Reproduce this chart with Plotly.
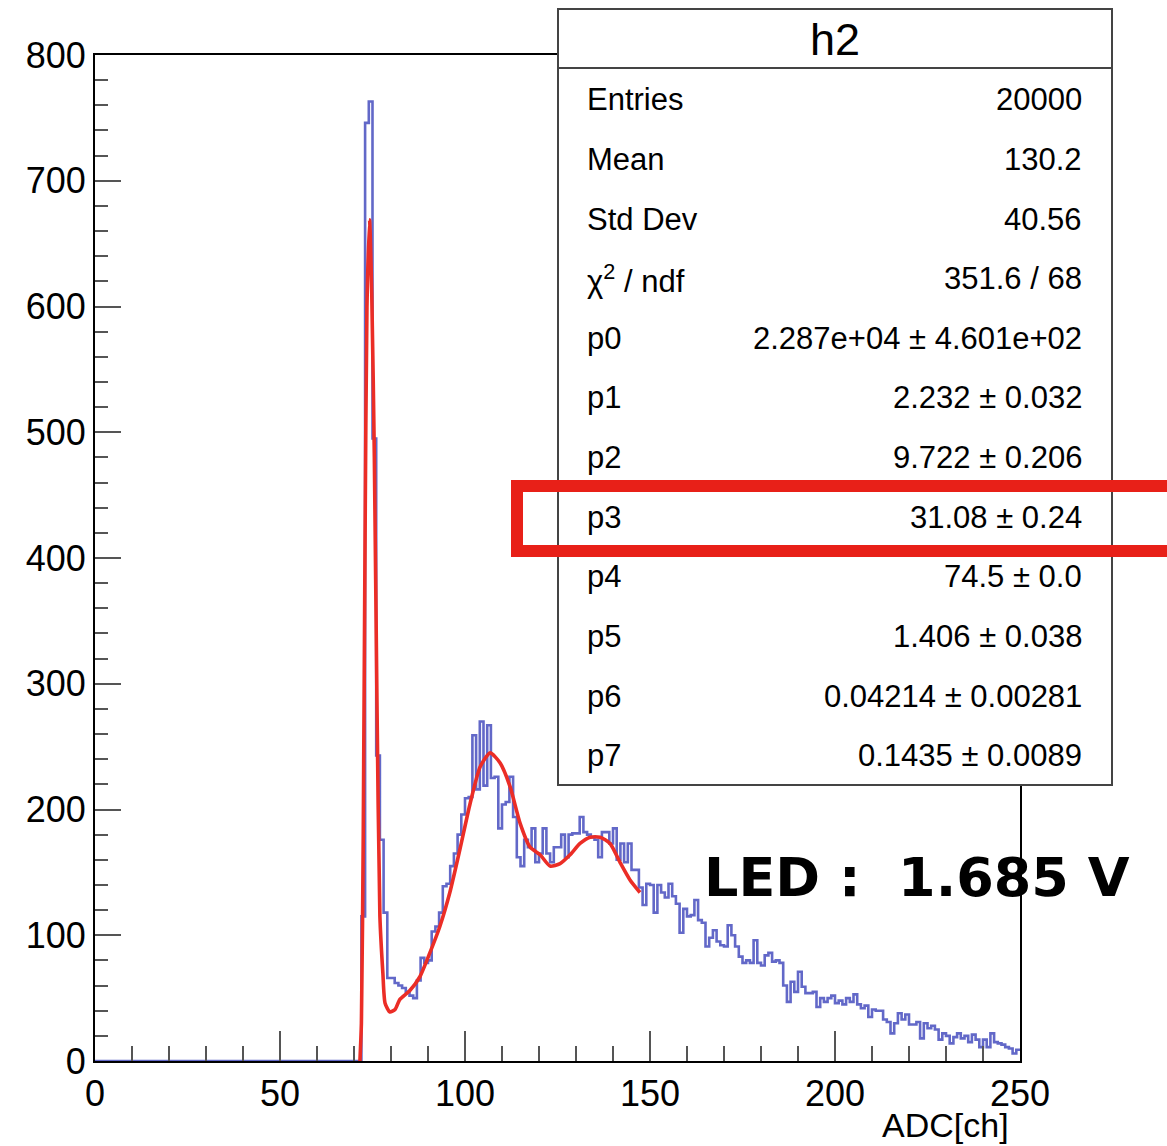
import plotly.graph_objects as go

# ---------------- data ----------------
bin_edges_start = 0
bin_width = 1
counts = [0] * 72 + [
    115, 746, 763, 495, 243, 176, 118, 66, 66, 62,           # 72-81
    60, 58, 55, 52, 50, 64, 82, 78, 80, 103,                  # 82-91
    107, 118, 139, 141, 155, 165, 180, 196, 209, 210,         # 92-101
    259, 216, 270, 219, 267, 225, 226, 185, 204, 206,         # 102-111
    226, 194, 162, 155, 176, 170, 185, 158, 165, 185,         # 112-121
    165, 158, 170, 170, 180, 162, 180, 181, 181, 194,         # 122-131
    182, 180, 178, 176, 162, 182, 182, 173, 185, 160,         # 132-141
    173, 158, 173, 152, 152, 138, 124, 141, 140, 118,         # 142-151
    140, 134, 130, 141, 131, 125, 102, 121, 115, 116,         # 152-161
    128, 112, 110, 91, 98, 104, 95, 92, 91, 108,              # 162-171
    100, 91, 83, 78, 80, 78, 96, 78, 76, 84,                  # 172-181
    86, 79, 80, 78, 60, 47, 63, 55, 71, 59,                   # 182-191
    54, 54, 55, 43, 50, 47, 50, 52, 46, 48,                   # 192-201
    45, 50, 47, 53, 45, 42, 44, 35, 41, 40,                   # 202-211
    40, 33, 31, 22, 30, 38, 33, 37, 29, 29,                   # 212-221
    31, 18, 30, 26, 28, 25, 17, 22, 20, 14,                   # 222-231
    19, 22, 18, 20, 15, 21, 17, 11, 17, 11,                   # 232-241
    22, 15, 14, 13, 11, 10, 6, 9,                             # 242-249
]

fit_x = [71.6, 72.0, 72.5, 73.0, 73.5, 74.2, 74.8, 75.5, 76.2, 77.0, 77.8, 78.4,
         79.7, 81.1, 82.4, 85.1, 87.8, 90.5, 93.2, 95.9, 98.6, 101.4, 104.1,
         106.8, 109.5, 112.2, 114.9, 117.6, 120.3, 123.0, 125.7, 128.4, 131.1,
         133.8, 136.5, 139.2, 141.9, 144.6, 147.3]
fit_y = [0, 30, 180, 420, 600, 669, 610, 480, 287, 115, 70, 46,
         39, 41, 49, 56, 67, 86, 107, 134, 168, 205, 234,
         245, 237, 218, 189, 170, 164, 155, 157, 164, 173,
         178, 178, 173, 158, 144, 134]

x_tick_vals = [0, 50, 100, 150, 200, 250]
y_tick_vals = [0, 100, 200, 300, 400, 500, 600, 700, 800]

stat_labels = ["Entries", "Mean", "Std Dev", "χ<sup>2</sup> / ndf", "p0", "p1",
               "p2", "p3", "p4", "p5", "p6", "p7"]
stat_values = ["20000", "130.2", "40.56", "351.6 / 68",
               "2.287e+04 ± 4.601e+02", "2.232 ± 0.032", "9.722 ± 0.206",
               "31.08 ± 0.24", "74.5 ± 0.0", "1.406 ± 0.038",
               "0.04214 ± 0.00281", "0.1435 ± 0.0089"]
hist_name = "h2"
x_title = "ADC[ch]"
led_text = "LED\u00a0:\u00a0\u00a01.685\u00a0V"

# ---------------- layout helpers (pixel -> paper) ----------------
W, H = 1167, 1146
L, R, T, B = 95, 1020, 55, 1061


def px(x):
    return (x - L) / (R - L)


def py(y):
    return (B - y) / (B - T)


edges = [bin_edges_start + i * bin_width for i in range(len(counts) + 1)]
hist_y = counts + [counts[-1]]

fig = go.Figure()
fig.add_trace(go.Scatter(x=edges, y=hist_y, mode="lines", line_shape="hv",
                         line=dict(color="rgb(98,104,200)", width=2.6),
                         hoverinfo="skip", showlegend=False))
fig.add_trace(go.Scatter(x=fit_x, y=fit_y, mode="lines", line_shape="spline",
                         line=dict(color="rgb(235,45,38)", width=3.6, smoothing=0.6),
                         hoverinfo="skip", showlegend=False))

font_main = "Liberation Sans, Arial, Helvetica, sans-serif"

fig.update_layout(
    width=W, height=H,
    margin=dict(l=L, r=W - R, t=T, b=H - B),
    paper_bgcolor="white", plot_bgcolor="white",
    showlegend=False,
    xaxis=dict(range=[0, 250], tickvals=x_tick_vals, ticks="inside", ticklen=30,
               tickwidth=2, tickcolor="#555", showgrid=False, zeroline=False,
               showline=True, linecolor="black", linewidth=2, mirror=True,
               tickfont=dict(family=font_main, size=36, color="black"),
               minor=dict(ticks="inside", ticklen=15, tickwidth=2, tickcolor="#555", dtick=10,
                          showgrid=False)),
    yaxis=dict(range=[0, 800], tickvals=y_tick_vals, ticks="inside", ticklen=26,
               tickwidth=2, tickcolor="#555", showgrid=False, zeroline=False,
               showline=True, linecolor="black", linewidth=2, mirror=True,
               tickfont=dict(family=font_main, size=36, color="black"),
               minor=dict(ticks="inside", ticklen=13, tickwidth=2, tickcolor="#555", dtick=20,
                          showgrid=False)),
)

shapes = []
# stats box
shapes.append(dict(type="rect", xref="paper", yref="paper",
                   x0=px(558), x1=px(1112), y0=py(785), y1=py(9),
                   line=dict(color="#444", width=2), fillcolor="white", layer="above"))
shapes.append(dict(type="line", xref="paper", yref="paper",
                   x0=px(558), x1=px(1112), y0=py(68), y1=py(68),
                   line=dict(color="#444", width=2), layer="above"))
# hand drawn red highlight
shapes.append(dict(type="rect", xref="paper", yref="paper",
                   x0=px(517), x1=px(1190), y0=py(551), y1=py(486),
                   line=dict(color="rgb(232,32,24)", width=12), fillcolor="rgba(0,0,0,0)",
                   layer="above"))
fig.update_layout(shapes=shapes)

ann = []
ann.append(dict(text=hist_name, xref="paper", yref="paper", x=px(835), y=py(40),
                xanchor="center", yanchor="middle", showarrow=False,
                font=dict(family=font_main, size=45, color="black")))
row0, dy = 100, 59.6
for i, (lab, val) in enumerate(zip(stat_labels, stat_values)):
    yy = py(row0 + i * dy)
    ann.append(dict(text=lab, xref="paper", yref="paper", x=px(585), y=yy,
                    xanchor="left", yanchor="middle", showarrow=False,
                    font=dict(family=font_main, size=31, color="black")))
    ann.append(dict(text=val, xref="paper", yref="paper", x=px(1084), y=yy,
                    xanchor="right", yanchor="middle", showarrow=False,
                    font=dict(family=font_main, size=31, color="black")))
ann.append(dict(text=x_title, xref="paper", yref="paper", x=px(1011), y=py(1125),
                xanchor="right", yanchor="middle", showarrow=False,
                font=dict(family=font_main, size=34, color="black")))
ann.append(dict(text="<b>" + led_text + "</b>", xref="paper", yref="paper",
                x=px(702), y=py(877), xanchor="left", yanchor="middle", showarrow=False,
                font=dict(family="DejaVu Sans, sans-serif", size=54, color="black")))
fig.update_layout(annotations=ann)

fig.write_html("out.html")
